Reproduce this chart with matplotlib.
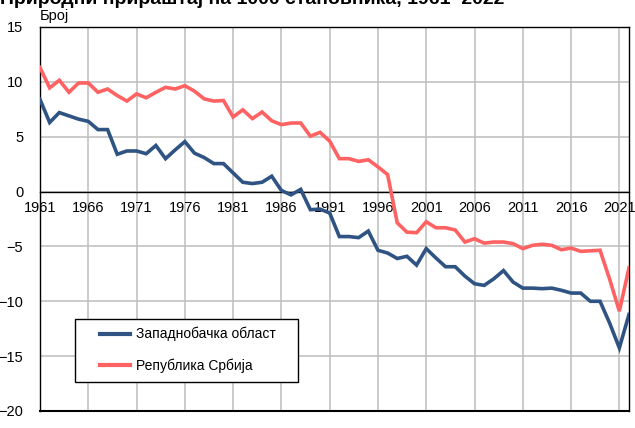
import numpy as np
from matplotlib import pyplot as plt
from matplotlib.patches import Rectangle

plt.rcParams['font.family'] = ['Liberation Sans', 'DejaVu Sans']

years = np.arange(1961, 2023)

zapadnobacka = [8.4, 6.3, 7.2, 6.9, 6.6, 6.4, 5.65, 5.65, 3.4, 3.7,
                3.7, 3.45, 4.2, 3.0, 3.8, 4.55, 3.5, 3.1, 2.55, 2.55,
                1.7, 0.85, 0.73, 0.85, 1.4, 0.1, -0.3, 0.2, -1.65, -1.6,
                -1.95, -4.1, -4.1, -4.2, -3.6, -5.35, -5.6, -6.1, -5.9, -6.7,
                -5.2, -6.05, -6.85, -6.85, -7.7, -8.4, -8.55, -7.95, -7.2, -8.25,
                -8.8, -8.8, -8.85, -8.8, -9.0, -9.25, -9.25, -10.0, -10.0, -12.0,
                -14.25, -11.2]

srbija = [11.3, 9.45, 10.15, 9.05, 9.9, 9.9, 9.05, 9.35, 8.75, 8.25,
          8.9, 8.55, 9.05, 9.5, 9.35, 9.65, 9.15, 8.45, 8.25, 8.3,
          6.8, 7.45, 6.65, 7.25, 6.45, 6.1, 6.25, 6.25, 5.05, 5.4,
          4.6, 3.0, 3.0, 2.75, 2.9, 2.25, 1.55, -2.85, -3.7, -3.75,
          -2.75, -3.3, -3.3, -3.5, -4.6, -4.3, -4.7, -4.6, -4.6, -4.75,
          -5.2, -4.9, -4.8, -4.9, -5.3, -5.15, -5.45, -5.4, -5.35, -8.0,
          -10.9, -6.95]

names = ['Западнобачка област', 'Република Србија']
colours = ['#2F5383', '#FF6262']
xticks = np.arange(1961, 2022, 5)

fig = plt.figure(figsize=(6.35, 4.28), dpi=100)
ax = fig.add_axes([40/635, 17/428, 589/635, 384/428])

ax.plot(years, zapadnobacka, color=colours[0], lw=2.6, label=names[0],
        solid_joinstyle='miter', zorder=3)
ax.plot(years, srbija, color=colours[1], lw=2.6, label=names[1],
        solid_joinstyle='miter', zorder=3)

ax.set_xlim(1961, 2022)
ax.set_ylim(-20, 15)
ax.set_xticks(xticks)
ax.set_yticks(np.arange(-20, 16, 5))
ax.grid(True, color='#BDBDBD', lw=1.1)
ax.set_axisbelow(True)

for s in ['left', 'right', 'top']:
    ax.spines[s].set_color('black')
    ax.spines[s].set_linewidth(1.0)
ax.spines['bottom'].set_position(('data', 0))
ax.spines['bottom'].set_linewidth(1.0)
ax.axhline(-20, color='black', lw=1.5, clip_on=False, zorder=4)

ax.tick_params(axis='both', length=0, labelsize=10.5, colors='black')
ax.tick_params(axis='x', pad=7)
ax.tick_params(axis='y', pad=12)

# legend box drawn separately, entries placed inside it
ax.add_patch(Rectangle((35/589, 29/384), 223/589, 63/384, transform=ax.transAxes,
                       facecolor='white', edgecolor='black', lw=1.0, zorder=5))
leg = ax.legend(loc='upper left', bbox_to_anchor=(60/589, 84/384),
                frameon=False, fontsize=10, handlelength=2.15, borderpad=0,
                labelspacing=1.25, handletextpad=0.45, borderaxespad=0)
leg.set_zorder(6)
for line in leg.get_lines():
    line.set_linewidth(3)

fig.text(40/635, 1 - 20/428, 'Број', fontsize=10.5, ha='left', va='baseline')
fig.text(0.0, 1 - 4/428, 'Природни прираштај на 1000 становника, 1961–2022',
         fontsize=14, fontweight='bold', ha='left', va='baseline')

fig.savefig('out.png', dpi=100)
